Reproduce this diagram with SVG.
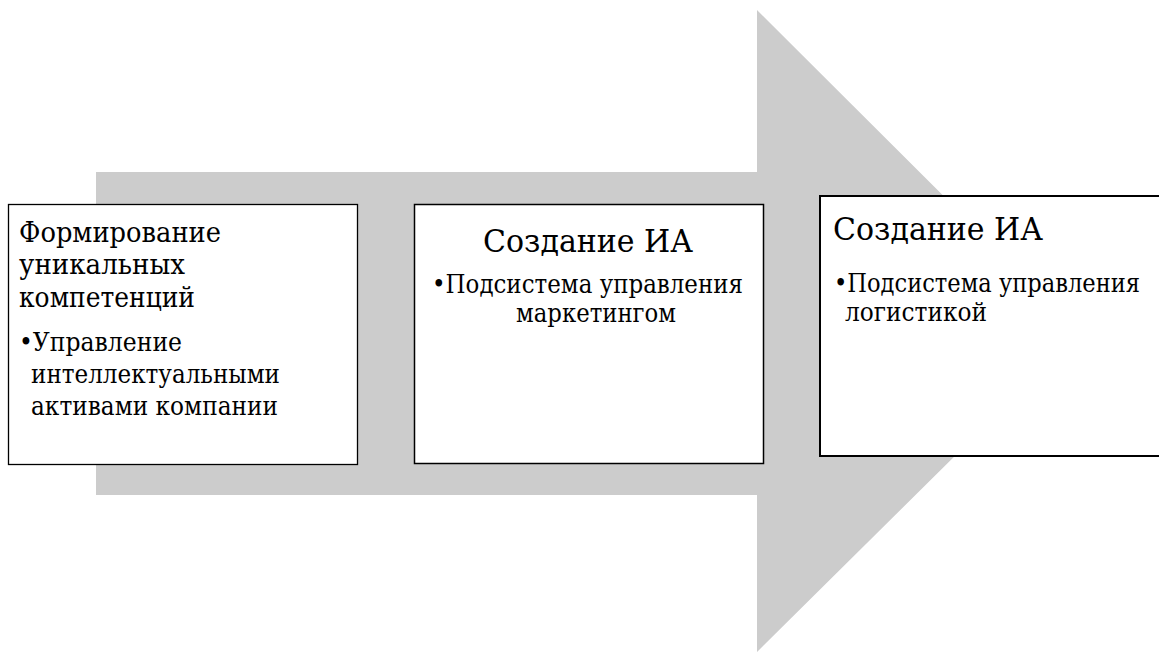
<svg xmlns="http://www.w3.org/2000/svg" width="1159" height="652" viewBox="0 0 1159 652">
<style>
.box{fill:#ffffff;stroke:#000000}
text{font-family:'DejaVu Serif','Liberation Serif',serif;fill:#000000}
.h1{font-size:27px}
.h2{font-size:32px}
.b{font-size:26px}
</style>
<rect width="1159" height="652" fill="#ffffff"/>
<g id="connectors">
<polygon id="arrow" points="96,172 757,172 757,10 1080,332 757,652 757,495 96,495" fill="#cccccc"/>
</g>
<g id="node1">
<rect class="box" x="8.5" y="204.5" width="349" height="260" stroke-width="1.3"/>
<text class="h1" x="19" y="242" textLength="202" lengthAdjust="spacingAndGlyphs">Формирование</text>
<text class="h1" x="19" y="274" textLength="166" lengthAdjust="spacingAndGlyphs">уникальных</text>
<text class="h1" x="19" y="307" textLength="176" lengthAdjust="spacingAndGlyphs">компетенций</text>
<text class="b" x="19" y="351" textLength="163" lengthAdjust="spacingAndGlyphs">•Управление</text>
<text class="b" x="31" y="383" textLength="249" lengthAdjust="spacingAndGlyphs">интеллектуальными</text>
<text class="b" x="31" y="415" textLength="247" lengthAdjust="spacingAndGlyphs">активами компании</text>
</g>
<g id="node2">
<rect class="box" x="414.5" y="204.5" width="349" height="259" stroke-width="1.5"/>
<text class="h2" x="483" y="252" textLength="210" lengthAdjust="spacingAndGlyphs">Создание ИА</text>
<text class="b" x="432" y="293" textLength="311" lengthAdjust="spacingAndGlyphs">•Подсистема управления</text>
<text class="b" x="516" y="322" textLength="160" lengthAdjust="spacingAndGlyphs">маркетингом</text>
</g>
<g id="node3">
<rect class="box" x="820" y="196" width="352" height="260" stroke-width="2"/>
<text class="h2" x="833" y="240" textLength="210" lengthAdjust="spacingAndGlyphs">Создание ИА</text>
<text class="b" x="834" y="292" textLength="306" lengthAdjust="spacingAndGlyphs">•Подсистема управления</text>
<text class="b" x="845" y="321" textLength="142" lengthAdjust="spacingAndGlyphs">логистикой</text>
</g>
</svg>
